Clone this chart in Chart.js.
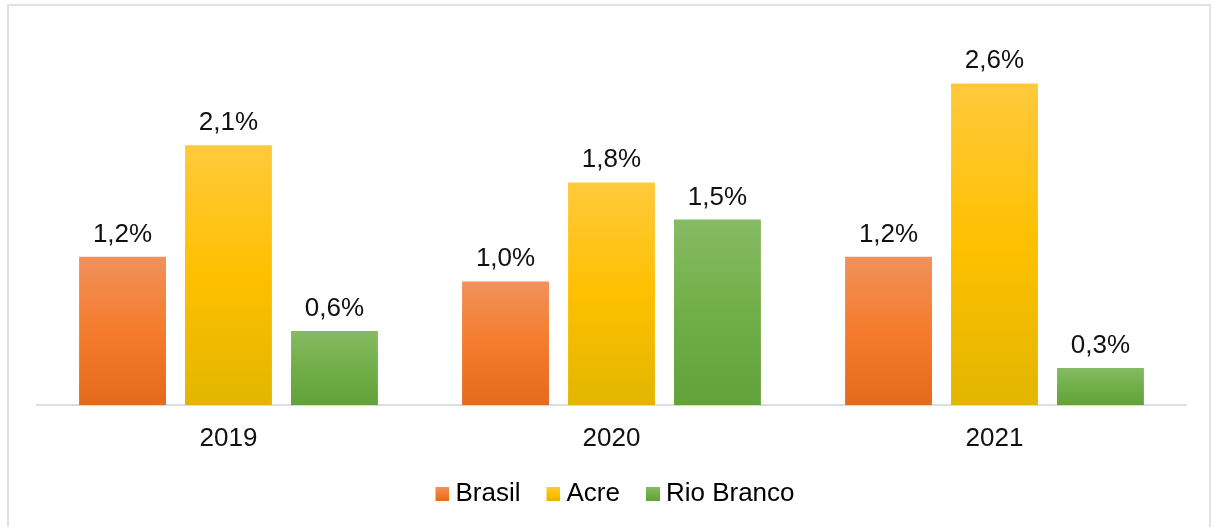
<!DOCTYPE html>
<html>
<head>
<meta charset="utf-8">
<script src="https://cdn.jsdelivr.net/npm/chart.js@4/dist/chart.umd.min.js"></script>
<style>
  html, body { margin: 0; padding: 0; background: #ffffff; }
  #frame {
    position: absolute; left: 7px; top: 4px; width: 1204px; height: 600px;
    border: 2px solid #dde2e9; border-bottom: none; box-sizing: border-box;
  }
  #wrap { position: absolute; left: 0; top: 0; width: 1214px; height: 527px; overflow: hidden; }
  canvas { position: absolute; left: 0; top: 0; }
</style>
</head>
<body>
<div id="wrap">
  <div id="frame"></div>
  <canvas id="c" width="1214" height="527"></canvas>
</div>
<script>
// Taxa anual por região (%)
const years = ['2019', '2020', '2021'];
const brasil = [1.2, 1.0, 1.2];
const acre = [2.1, 1.8, 2.6];
const rioBranco = [0.6, 1.5, 0.3];

const seriesNames = ['Brasil', 'Acre', 'Rio Branco'];
// light top, base middle, darker bottom
const palettes = [
  ['#f1915a', '#f47c2c', '#e46a1c'],
  ['#ffc93c', '#fec000', '#e2b600'],
  ['#86bb63', '#71ae48', '#62a23a']
];

const FONT = "'Liberation Sans', Arial, Helvetica, sans-serif";

function barGradient(ctx, colors) {
  const chart = ctx.chart;
  const y = chart.scales && chart.scales.y;
  if (!chart.chartArea || !y || ctx.raw === undefined) return colors[1];
  const top = y.getPixelForValue(ctx.raw);
  const base = y.getPixelForValue(0);
  if (!isFinite(top) || !isFinite(base) || Math.abs(base - top) < 1) return colors[1];
  const g = chart.ctx.createLinearGradient(0, top, 0, base);
  g.addColorStop(0, colors[0]);
  g.addColorStop(0.5, colors[1]);
  g.addColorStop(1, colors[2]);
  return g;
}

// legend swatch: 14px square sitting in the right half of a 28px-wide tile,
// so it hugs the label text
function swatch(colors) {
  const cv = document.createElement('canvas');
  cv.width = 28; cv.height = 14;
  const g2 = cv.getContext('2d');
  const g = g2.createLinearGradient(0, 0, 0, 14);
  g.addColorStop(0, colors[0]);
  g.addColorStop(0.5, colors[1]);
  g.addColorStop(1, colors[2]);
  g2.fillStyle = g;
  g2.fillRect(14, 0, 14, 14);
  return cv;
}

function fmt(v) {
  return v.toFixed(1).replace('.', ',') + '%';
}

// values written above each bar
const valueLabels = {
  id: 'valueLabels',
  afterDatasetsDraw(chart) {
    const c = chart.ctx;
    c.save();
    c.font = '26px ' + FONT;
    c.fillStyle = '#111111';
    c.textAlign = 'center';
    c.textBaseline = 'alphabetic';
    chart.data.datasets.forEach((ds, di) => {
      const meta = chart.getDatasetMeta(di);
      meta.data.forEach((bar, i) => {
        c.fillText(fmt(ds.data[i]), bar.x, bar.y - 15);
      });
    });
    c.restore();
  }
};

const dataSets = [brasil, acre, rioBranco].map((vals, k) => ({
  label: seriesNames[k],
  data: vals,
  backgroundColor: (ctx) => barGradient(ctx, palettes[k]),
  borderWidth: 0,
  categoryPercentage: 0.83,
  barPercentage: 0.82
}));

const swatches = palettes.map(swatch);

new Chart(document.getElementById('c'), {
  type: 'bar',
  data: { labels: years, datasets: dataSets },
  options: {
    responsive: false,
    animation: false,
    layout: { padding: { left: 37, right: 28, top: 34, bottom: 10 } },
    scales: {
      x: {
        grid: { display: false, drawTicks: false },
        border: { display: true, color: '#d9dde4', width: 2 },
        ticks: { color: '#111111', font: { family: FONT, size: 26, lineHeight: 0.3 }, padding: 30 },
        // tighten the band between the plot and the legend
        afterFit(scale) { scale.height -= 11; }
      },
      y: { display: false, min: 0, max: 3 }
    },
    plugins: {
      tooltip: { enabled: false },
      legend: {
        position: 'bottom',
        labels: {
          usePointStyle: true,
          boxWidth: 14,
          boxHeight: 14,
          padding: 19,
          color: '#111111',
          font: { family: FONT, size: 26 },
          generateLabels(chart) {
            return chart.data.datasets.map((ds, i) => ({
              text: ds.label,
              pointStyle: swatches[i],
              fillStyle: palettes[i][1],
              strokeStyle: palettes[i][1],
              lineWidth: 0,
              hidden: false,
              datasetIndex: i
            }));
          }
        }
      }
    }
  },
  plugins: [valueLabels]
});
</script>
</body>
</html>
